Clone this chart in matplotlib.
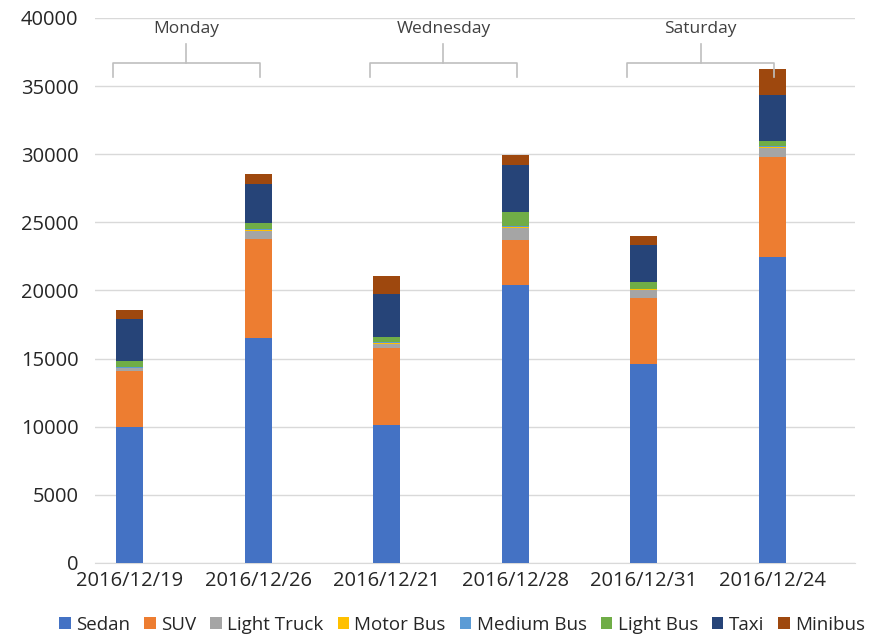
import numpy as np
import matplotlib.pyplot as plt

plt.rcParams['font.family'] = ['Open Sans', 'DejaVu Sans']

# Vehicle counts per date, stacked by vehicle type
dates = ['2016/12/19', '2016/12/26', '2016/12/21', '2016/12/28', '2016/12/31', '2016/12/24']
sedan = [10000, 16540, 10140, 20430, 14630, 22420]
suv = [4100, 7200, 5660, 3300, 4850, 7350]
light_truck = [200, 600, 300, 850, 540, 680]
motor_bus = [40, 60, 40, 80, 50, 60]
medium_bus = [60, 80, 50, 100, 70, 80]
light_bus = [400, 500, 400, 1000, 510, 370]
taxi = [3100, 2800, 3150, 3450, 2650, 3380]
minibus = [700, 800, 1300, 700, 730, 1910]

series = [
    ('Sedan', sedan, '#4472C4'),
    ('SUV', suv, '#ED7D31'),
    ('Light Truck', light_truck, '#A5A5A5'),
    ('Motor Bus', motor_bus, '#FFC000'),
    ('Medium Bus', medium_bus, '#5B9BD5'),
    ('Light Bus', light_bus, '#70AD47'),
    ('Taxi', taxi, '#264478'),
    ('Minibus', minibus, '#9E480E'),
]

# Weekday groups: (label, first index, last index)
groups = [('Monday', 0, 1), ('Wednesday', 2, 3), ('Saturday', 4, 5)]

fig = plt.figure(figsize=(8.96, 6.39), dpi=100)
ax = fig.add_axes([0.106, 0.119, 0.848, 0.853])

x = np.arange(len(dates))
bottom = np.zeros(len(dates))
for name, vals, color in series:
    ax.bar(x, vals, 0.21, bottom=bottom, color=color, label=name, zorder=3)
    bottom += np.array(vals)

ax.set_xlim(-0.27, 5.64)
ax.set_ylim(0, 40000)
ax.set_yticks(np.arange(0, 40001, 5000))
ax.set_xticks(x)
ax.set_xticklabels(dates)
ax.tick_params(axis='both', length=0, labelsize=14.5, colors='#262626')
ax.tick_params(axis='y', pad=12)
ax.tick_params(axis='x', pad=6)
ax.grid(axis='y', color='#d9d9d9', linewidth=1, zorder=0)
for side in ['top', 'right', 'left']:
    ax.spines[side].set_visible(False)
ax.spines['bottom'].set_color('#d9d9d9')

# Brackets over each weekday pair
br_color = '#bfbfbf'
for label, i0, i1 in groups:
    left, right = i0 - 0.13, i1 + 0.01
    mid = (left + right) / 2
    ax.plot([left, left, right, right], [35650, 36680, 36680, 35650],
            color=br_color, lw=1.2, clip_on=False, zorder=4)
    ax.plot([mid, mid], [36680, 38070], color=br_color, lw=1.2,
            clip_on=False, zorder=4)
    ax.text(mid, 39150, label, ha='center', va='center', fontsize=12.5,
            color='#404040')

ax.legend(loc='center', bbox_to_anchor=(0.516, 0.022),
          bbox_transform=fig.transFigure, ncol=8, frameon=False,
          fontsize=13.5, handlelength=0.6, handleheight=0.6,
          handletextpad=0.3, columnspacing=0.75, labelcolor='#262626')

fig.savefig('out.png', dpi=100)
